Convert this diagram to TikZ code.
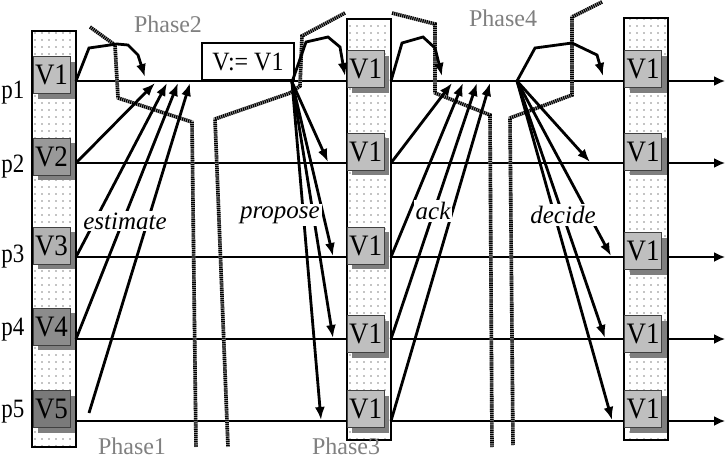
\documentclass[tikz,border=0pt]{standalone}
\usepackage{fontspec}
\setmainfont{Liberation Serif}
\usetikzlibrary{arrows.meta,patterns.meta}
\definecolor{shadowc}{HTML}{7F7F7F}
\definecolor{phasec}{HTML}{808080}
\newcommand\Vcell[5]{%
  \fill[shadowc] (#2-13.5,#3-13.5) rectangle (#2+23.5,#3+23.5);
  \node[vcell,fill=#4] (#1) at (#2,#3) {\scalebox{1}[1.1]{#5}};}
\begin{document}
\begin{tikzpicture}[x=1pt,y=-1pt,
  proc/.style={line width=1.8pt},
  procarrow/.style={proc,-{Latex[length=11pt,width=10pt]}},
  msg/.style={line width=2.8pt,-{Latex[length=13pt,width=10pt]}},
  bound/.style={line width=3.6pt,dash pattern=on 1.2pt off 0.9pt,black,
    preaction={draw=black!35,solid,line width=3.6pt}},
  colbox/.style={draw,line width=1.3pt,fill=white,
    postaction={pattern={Dots[distance=7pt,radius=0.7pt]},pattern color=black}},
  vcell/.style={draw=black!75,line width=0.6pt,minimum width=37pt,minimum height=37pt,
    inner sep=0pt,font=\fontsize{27}{30}\selectfont},
  plabel/.style={anchor=base,font=\fontsize{23}{26}\selectfont},
  phaselabel/.style={anchor=base,text=phasec,font=\fontsize{24}{28}\selectfont},
  msglabel/.style={fill=white,inner sep=2pt,font=\fontsize{25}{28}\selectfont\itshape},
]
\useasboundingbox (0,0) rectangle (727,460);

% process line coordinates
\coordinate (L1) at (76,81);  \coordinate (R1) at (725,81);
\coordinate (L2) at (76,163); \coordinate (R2) at (725,163);
\coordinate (L3) at (76,257); \coordinate (R3) at (725,257);
\coordinate (L4) at (76,339); \coordinate (R4) at (725,339);
\coordinate (L5) at (76,421); \coordinate (R5) at (725,421);
\foreach \i in {1,...,5} {\draw[procarrow] (L\i) -- (R\i);}

% process labels
\node[plabel] (p1) at (13,98) {\scalebox{1}[1.15]{p1}};
\node[plabel] (p2) at (13,172) {\scalebox{1}[1.15]{p2}};
\node[plabel] (p3) at (13,262) {\scalebox{1}[1.15]{p3}};
\node[plabel] (p4) at (13,335) {\scalebox{1}[1.15]{p4}};
\node[plabel] (p5) at (13,417) {\scalebox{1}[1.15]{p5}};

% phase boundaries
\draw[bound] (90,27) -- (115,45) -- (118,98) -- (192,122) -- (196,447);
\draw[bound] (345,13) -- (302,36) -- (300,86) -- (290,93) -- (215,119) -- (228,447);
\draw[bound] (392,13) -- (435,24) -- (435,93) -- (490,115) -- (492,447);
\draw[bound] (602,2) -- (572,17) -- (572,95) -- (510,118) -- (513,445);

% columns
\path[colbox] (32,31) rectangle (76,447);
\path[colbox] (347,19) rectangle (391,440);
\path[colbox] (624,18) rectangle (668,440);

% value cells
\Vcell{a1}{51.5}{75}{black!25}{V1}
\Vcell{a2}{51.5}{156.5}{black!40}{V2}
\Vcell{a3}{51.5}{245.5}{black!30}{V3}
\Vcell{a4}{51.5}{326.5}{black!45}{V4}
\Vcell{a5}{51.5}{409}{black!52}{V5}
\Vcell{b1}{365.5}{69}{black!25}{V1}
\Vcell{b2}{365.5}{151.5}{black!25}{V1}
\Vcell{b3}{365.5}{245.5}{black!25}{V1}
\Vcell{b4}{365.5}{334}{black!25}{V1}
\Vcell{b5}{365.5}{409}{black!25}{V1}
\Vcell{c1}{643}{69}{black!25}{V1}
\Vcell{c2}{643}{151.5}{black!25}{V1}
\Vcell{c3}{643}{251}{black!25}{V1}
\Vcell{c4}{643}{334}{black!25}{V1}
\Vcell{c5}{643}{409}{black!25}{V1}

% V := V1 box
\node[draw,line width=1.3pt,fill=white,minimum width=92pt,minimum height=37pt,inner sep=0pt,
  font=\fontsize{24}{28}\selectfont] (assign) at (248,61.5) {\scalebox{1}[1.1]{V:= V1}};

% Phase 1: estimate
\coordinate (e1) at (145,77);
\coordinate (e2) at (155,83);
\coordinate (e3) at (167,83);
\coordinate (e4) at (178,83);
\coordinate (e5) at (190,83);
\coordinate (s5) at (89,413);
\draw[msg] (L1) -- (89,48) -- (117,44) -- (128,45) -- (138,55) -- (e1);
\draw[msg] (L2) -- (e2);
\draw[msg] (L3) -- (e3);
\draw[msg] (L4) -- (e4);
\draw[msg] (s5) -- (e5);

% Phase 2: propose
\coordinate (m2) at (292,82);
\coordinate (f1) at (345,76);
\coordinate (f2) at (328,162);
\coordinate (f3) at (333,256);
\coordinate (f4) at (333,338);
\coordinate (f5) at (321,420);
\draw[msg] (m2) -- (306,42) -- (328,37) -- (340,47) -- (f1);
\draw[msg] (m2) -- (f2);
\draw[msg] (m2) -- (f3);
\draw[msg] (m2) -- (f4);
\draw[msg] (m2) -- (f5);

% Phase 3: ack
\coordinate (k1s) at (391,81);
\coordinate (k2s) at (391,163);
\coordinate (k3s) at (391,257);
\coordinate (k4s) at (391,339);
\coordinate (k5s) at (391,421);
\coordinate (k1) at (442,76);
\coordinate (k2) at (452,83);
\coordinate (k3) at (463,83);
\coordinate (k4) at (477,83);
\coordinate (k5) at (490,83);
\draw[msg] (k1s) -- (402,43) -- (423,37) -- (435,48) -- (k1);
\draw[msg] (k2s) -- (k2);
\draw[msg] (k3s) -- (k3);
\draw[msg] (k4s) -- (k4);
\draw[msg] (k5s) -- (k5);

% Phase 4: decide
\coordinate (m4) at (517,81);
\coordinate (d1) at (603,76);
\coordinate (d2) at (590,162);
\coordinate (d3) at (611,256);
\coordinate (d4) at (605,338);
\coordinate (d5) at (612,420);
\draw[msg] (m4) -- (535,48) -- (572,43) -- (597,55) -- (d1);
\draw[msg] (m4) -- (d2);
\draw[msg] (m4) -- (d3);
\draw[msg] (m4) -- (d4);
\draw[msg] (m4) -- (d5);

% message labels
\node[msglabel] (lest) at (125,221) {estimate};
\node[msglabel] (lpro) at (280,215) {propose};
\node[msglabel] (lack) at (433,211) {ack};
\node[msglabel] (ldec) at (563,215) {decide};

% phase labels
\node[phaselabel] (ph2) at (168,33) {Phase2};
\node[phaselabel] (ph4) at (503,27) {Phase4};
\node[phaselabel] (ph1) at (132,454) {Phase1};
\node[phaselabel] (ph3) at (346,454) {Phase3};
\end{tikzpicture}
\end{document}
